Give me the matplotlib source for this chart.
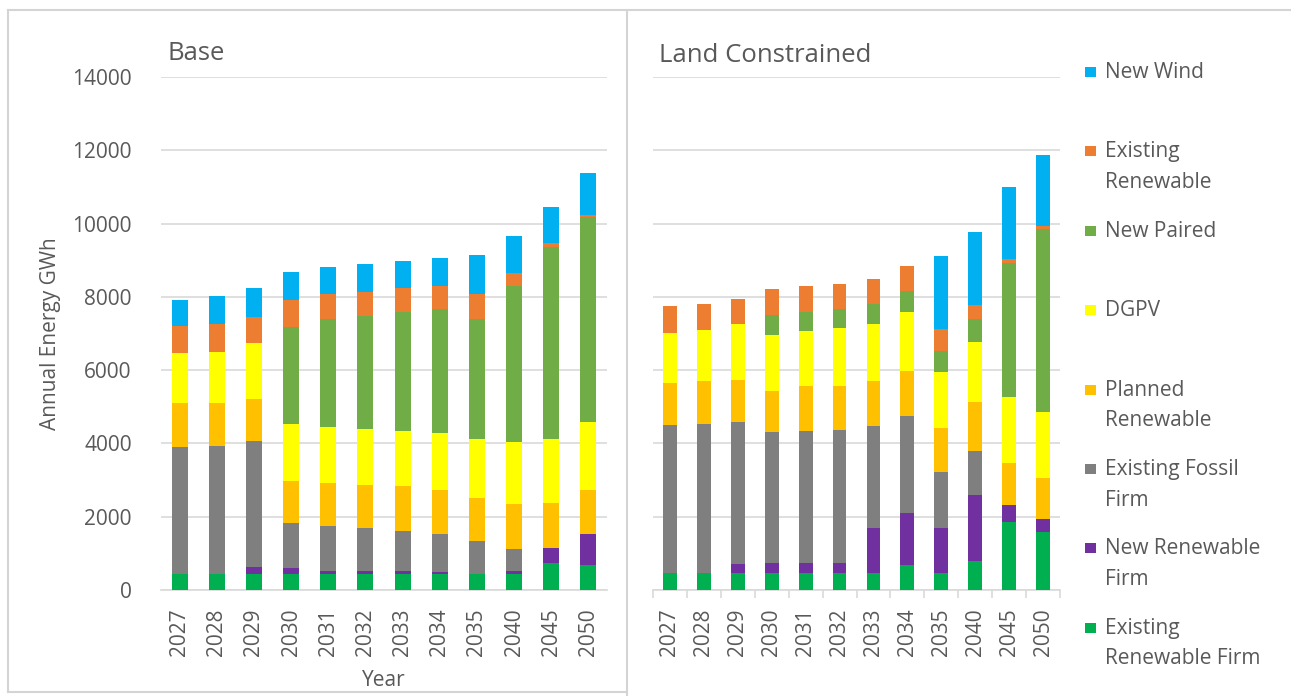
import numpy as np
import matplotlib.pyplot as plt
from matplotlib.lines import Line2D
from matplotlib.patches import Rectangle

plt.rcParams['font.family'] = ['Open Sans', 'DejaVu Sans']

years = ['2027', '2028', '2029', '2030', '2031', '2032', '2033', '2034',
         '2035', '2040', '2045', '2050']

# stack order, bottom to top
series = ['Existing Renewable Firm', 'New Renewable Firm', 'Existing Fossil Firm',
          'Planned Renewable', 'DGPV', 'New Paired', 'Existing Renewable', 'New Wind']
legend_labels = ['Existing\nRenewable Firm', 'New Renewable\nFirm', 'Existing Fossil\nFirm',
                 'Planned\nRenewable', 'DGPV', 'New Paired', 'Existing\nRenewable', 'New Wind']
colors = ['#00b050', '#7030a0', '#7f7f7f', '#ffc000', '#ffff00', '#70ad47', '#ed7d31', '#00b0f0']

# Base scenario (GWh)
base_erf = [440, 440, 440, 440, 440, 440, 440, 440, 440, 440, 730, 680]
base_nrf = [0, 0, 200, 150, 90, 90, 90, 60, 10, 80, 425, 840]
base_eff = [3460, 3500, 3435, 1230, 1220, 1150, 1080, 1020, 900, 600, 0, 0]
base_pr = [1200, 1160, 1135, 1155, 1160, 1180, 1230, 1210, 1150, 1220, 1215, 1210]
base_dgpv = [1360, 1400, 1540, 1545, 1540, 1540, 1500, 1550, 1630, 1690, 1760, 1860]
base_np = [0, 0, 0, 2650, 2950, 3070, 3250, 3380, 3260, 4270, 5240, 5580]
base_er = [740, 760, 690, 745, 680, 670, 640, 640, 690, 340, 90, 60]
base_nw = [710, 750, 790, 755, 740, 760, 750, 750, 1060, 1030, 1000, 1150]

# Land Constrained scenario (GWh)
land_erf = [460, 460, 460, 460, 460, 460, 460, 670, 460, 780, 1860, 1580]
land_nrf = [0, 0, 250, 270, 270, 270, 1230, 1430, 1230, 1800, 450, 360]
land_eff = [4040, 4080, 3880, 3570, 3610, 3640, 2780, 2650, 1530, 1220, 0, 0]
land_pr = [1150, 1170, 1150, 1140, 1240, 1210, 1240, 1220, 1190, 1320, 1165, 1120]
land_dgpv = [1370, 1390, 1510, 1525, 1500, 1570, 1560, 1615, 1550, 1640, 1780, 1800]
land_np = [0, 0, 0, 530, 520, 510, 540, 565, 550, 640, 3675, 4990]
land_er = [730, 710, 700, 730, 690, 690, 670, 690, 600, 390, 90, 90]
land_nw = [0, 0, 0, 0, 0, 0, 0, 0, 2000, 1970, 1970, 1940]

base = [base_erf, base_nrf, base_eff, base_pr, base_dgpv, base_np, base_er, base_nw]
land = [land_erf, land_nrf, land_eff, land_pr, land_dgpv, land_np, land_er, land_nw]

W, H = 1291, 696
txt = '#595959'
grid_c = '#d9d9d9'

fig = plt.figure(figsize=(W / 100, H / 100), dpi=100)


def frac(x0, x1, y0, y1):
    return [x0 / W, 1 - y1 / H, (x1 - x0) / W, (y1 - y0) / H]


def draw(ax, data, width, minor_ticks):
    x = np.arange(len(years))
    bottom = np.zeros(len(years))
    for vals, c, name in zip(data, colors, series):
        ax.bar(x, vals, width, bottom=bottom, color=c, label=name, linewidth=0, zorder=3)
        bottom += np.array(vals)
    ax.set_xlim(-0.5, len(years) - 0.5)
    ax.set_ylim(0, 14000)
    ax.set_yticks(np.arange(0, 14001, 2000))
    ax.yaxis.grid(True, color=grid_c, linewidth=1.2, zorder=0)
    ax.set_axisbelow(True)
    for s in ['top', 'right', 'left']:
        ax.spines[s].set_visible(False)
    ax.spines['bottom'].set_color(grid_c)
    ax.spines['bottom'].set_linewidth(1.2)
    ax.set_xticks(x)
    ax.set_xticklabels(years, rotation=90, fontsize=15, color=txt)
    ax.tick_params(axis='x', length=0, pad=13)
    if minor_ticks:
        ax.set_xticks(np.arange(-0.5, len(years), 1), minor=True)
        ax.tick_params(axis='x', which='minor', length=6, color=grid_c, width=1.2)
    ax.tick_params(axis='y', length=0, pad=21, labelsize=15, labelcolor=txt)


ax1 = fig.add_axes(frac(161, 607, 77, 590))
draw(ax1, base, 0.43, False)
ax1.set_ylabel('Annual Energy GWh', fontsize=15, color=txt, labelpad=8)
ax1.set_xlabel('Year', fontsize=15, color=txt, labelpad=10)

ax2 = fig.add_axes(frac(653, 1060, 77, 590))
draw(ax2, land, 0.41, True)
ax2.tick_params(axis='y', labelleft=False)

fig.text(168 / W, 1 - 54 / H, 'Base', fontsize=18.5, color=txt, va='center', ha='left',
         bbox=dict(facecolor='white', edgecolor='none', pad=2))
fig.text(659 / W, 1 - 56 / H, 'Land Constrained', fontsize=18.5, color=txt, va='center',
         ha='left', bbox=dict(facecolor='white', edgecolor='none', pad=2))

# legend on the right, top to bottom
for i, k in enumerate(range(len(series) - 1, -1, -1)):
    yc = 72 + 79.4 * i
    fig.add_artist(Rectangle((1085 / W, 1 - (yc + 5) / H), 11 / W, 10 / H,
                             transform=fig.transFigure, facecolor=colors[k],
                             edgecolor='none'))
    fig.text(1105 / W, 1 - (yc - 10) / H, legend_labels[k], fontsize=15, color=txt,
             va='top', ha='left', linespacing=1.6)

# panel frame lines
lc = '#d4d4d4'
fig.add_artist(Line2D([8 / W, 1], [1 - 10 / H, 1 - 10 / H], color=lc, lw=1.5,
                      transform=fig.transFigure))
fig.add_artist(Line2D([8 / W, 8 / W], [1 - 10 / H, 1 - 692 / H], color=lc, lw=1.5,
                      transform=fig.transFigure))
fig.add_artist(Line2D([627 / W, 627 / W], [1 - 10 / H, 0], color=lc, lw=1.5,
                      transform=fig.transFigure))
fig.add_artist(Line2D([8 / W, 627 / W], [1 - 692 / H, 1 - 692 / H], color=lc, lw=1.5,
                      transform=fig.transFigure))

fig.savefig('out.png', dpi=100)
